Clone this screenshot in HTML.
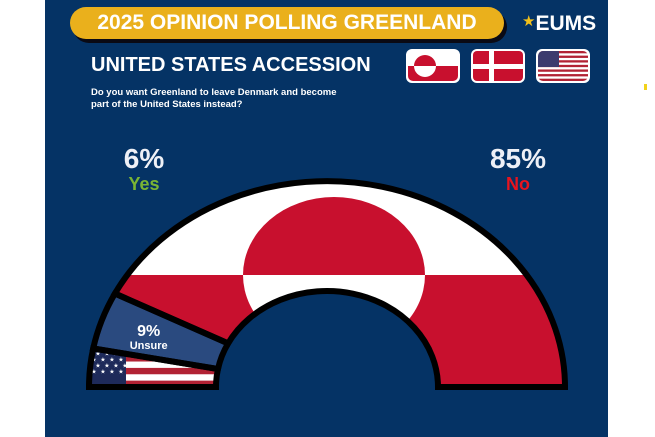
<!DOCTYPE html>
<html><head><meta charset="utf-8"><style>
html,body{margin:0;padding:0;background:#fff;width:655px;height:437px;overflow:hidden}
body{font-family:"Liberation Sans","DejaVu Sans",sans-serif;position:relative}
.abs{position:absolute}
</style></head><body>
<div class="abs" style="left:45px;top:0;width:563px;height:437px;background:#053365"></div>
<div class="abs" style="left:73px;top:11px;width:434px;height:32px;border-radius:16px;background:#0a0a14"></div>
<div class="abs" style="left:70px;top:7px;width:434px;height:32px;border-radius:16px;background:#eab01c;color:#fff;font-weight:bold;font-size:21px;line-height:32px;text-align:center">2025 OPINION POLLING GREENLAND</div>
<div class="abs" style="left:522px;top:12px;color:#fff;font-weight:bold;font-size:21px"><span style="color:#f2c01a;font-size:15px;vertical-align:top">★</span>EUMS</div>
<div class="abs" style="left:91px;top:54px;color:#fff;font-weight:bold;font-size:20px">UNITED STATES ACCESSION</div>
<div class="abs" style="left:91px;top:87px;color:#fff;font-weight:bold;font-size:9.5px;line-height:11.5px">Do you want Greenland to leave Denmark and become<br>part of the United States instead?</div>
<svg class="abs" style="left:0;top:0" width="655" height="437">
 <defs>
  <clipPath id="f1"><rect x="408" y="51" width="50" height="30" rx="5"/></clipPath>
  <clipPath id="f3"><rect x="538" y="51" width="50" height="30" rx="5"/></clipPath>
 </defs>
 <g>
  <rect x="406" y="49" width="54" height="34" rx="6" fill="#fff"/>
  <g clip-path="url(#f1)"><rect x="408" y="51" width="50" height="15" fill="#fff"/><rect x="408" y="66" width="50" height="15" fill="#c8102e"/>
  <path d="M414 66 A11 11 0 0 1 436 66Z" fill="#c8102e"/><path d="M414 66 A11 11 0 0 0 436 66Z" fill="#fff"/></g>
 </g>
 <g>
  <rect x="471" y="49" width="54" height="34" rx="6" fill="#fff"/>
  <rect x="473" y="51" width="50" height="30" rx="4" fill="#c8102e"/>
  <rect x="489" y="51" width="5" height="30" fill="#fff"/><rect x="473" y="64" width="50" height="5" fill="#fff"/>
 </g>
 <g>
  <rect x="536" y="49" width="54" height="34" rx="6" fill="#fff"/>
  <g clip-path="url(#f3)" id="usstripes"></g>
 </g>
 <rect x="644" y="84" width="3" height="6" fill="#f2d21a"/>
</svg>
<div class="abs" style="left:94px;top:143px;width:100px;text-align:center;color:#eef0f6;font-weight:bold;font-size:28px">6%</div>
<div class="abs" style="left:94px;top:174px;width:100px;text-align:center;color:#7ab534;font-weight:bold;font-size:18px">Yes</div>
<div class="abs" style="left:468px;top:143px;width:100px;text-align:center;color:#eef0f6;font-weight:bold;font-size:28px">85%</div>
<div class="abs" style="left:468px;top:174px;width:100px;text-align:center;color:#e8141e;font-weight:bold;font-size:18px">No</div>
<svg class="abs" id="chart" style="left:0;top:0" width="655" height="437"></svg>
<script>
const categories=["Yes","Unsure","No"];
const values=[6,9,85];
const labels=["6%","9%","85%"];
var NS="http://www.w3.org/2000/svg";
function mk(t,a,p){var e=document.createElementNS(NS,t);for(var k in a)e.setAttribute(k,a[k]);p.appendChild(e);return e;}
// small US icon stripes
var us=document.getElementById('usstripes');
for(var i=0;i<13;i++){var s=mk('rect',{x:538,y:51+i*30/13,width:50,height:30/13+0.3,fill:i%2?'#fff':'#b22234'},us);}
mk('rect',{x:538,y:51,width:21,height:16,fill:'#3c3b6e'},us);
var svg=document.getElementById('chart');
var cx=327,cy=387,Ro=238,Ri=111,k=0.865;
function pt(r,a){return [cx-r*Math.cos(a),cy-r*k*Math.sin(a)];}
function seg(a0,a1){var p1=pt(Ro,a0),p2=pt(Ro,a1),p3=pt(Ri,a1),p4=pt(Ri,a0);
 return 'M'+p1+' A'+Ro+' '+(Ro*k)+' 0 0 1 '+p2+' L'+p3+' A'+Ri+' '+(Ri*k)+' 0 0 0 '+p4+'Z';}
var defs=mk('defs',{},svg);
var total=values.reduce((a,b)=>a+b,0);var acc=0;var angs=[];
values.forEach(function(v,i){var a0=acc/total*Math.PI;acc+=v;var a1=acc/total*Math.PI;angs.push([a0,a1]);
 var c=mk('clipPath',{id:'seg'+i},defs);mk('path',{d:seg(a0,a1)},c);});
// Yes: US flag
var g0=mk('g',{'clip-path':'url(#seg0)'},svg);


var b0=pt(Ro,angs[0][1]);var y0=b0[1]-6,h0=cy-y0;
for(var i=0;i<7;i++){mk('rect',{x:80,y:y0+i*h0/7,width:160,height:h0/7+0.3,fill:i%2?'#fff':'#b22234'},g0);}
mk('rect',{x:80,y:y0,width:46,height:h0,fill:'#1e2a5a'},g0);
for(var r=0;r<5;r++)for(var c2=0;c2<4;c2++){var t=mk('text',{x:94+c2*9+(r%2)*4,y:y0+7+r*6,fill:'#fff','font-size':6,'text-anchor':'middle'},g0);t.textContent='★';}
// Unsure
var p1=mk('path',{d:seg(angs[1][0],angs[1][1]),fill:'#2a4a7f'},svg);


// No: Greenland flag
var g2=mk('g',{'clip-path':'url(#seg2)'},svg);


var sy=275;
mk('rect',{x:60,y:150,width:540,height:sy-150,fill:'#fff'},g2);
mk('rect',{x:60,y:sy,width:540,height:cy-sy,fill:'#c8102e'},g2);
mk('path',{d:'M243 '+sy+' A91 78 0 0 1 425 '+sy+'Z',fill:'#c8102e'},g2);
mk('path',{d:'M243 '+sy+' A91 78 0 0 0 425 '+sy+'Z',fill:'#fff'},g2);
// borders
angs.forEach(function(a,i){var b=mk('path',{d:seg(a[0],a[1]),fill:'none',stroke:'#000','stroke-width':6,'stroke-linejoin':'miter'},svg);
 
 });
// unsure label
var m=(angs[1][0]+angs[1][1])/2,lp=pt((Ro+Ri)/2+14,m);
var t1=mk('text',{x:lp[0],y:lp[1]+2,fill:'#fff','font-size':16,'font-weight':'bold','text-anchor':'middle','font-family':'Liberation Sans'},svg);
t1.textContent=labels[1];


var t2=mk('text',{x:lp[0],y:lp[1]+15,fill:'#fff','font-size':11,'font-weight':'bold','text-anchor':'middle','font-family':'Liberation Sans'},svg);
t2.textContent=categories[1];


</script>
</body></html>
